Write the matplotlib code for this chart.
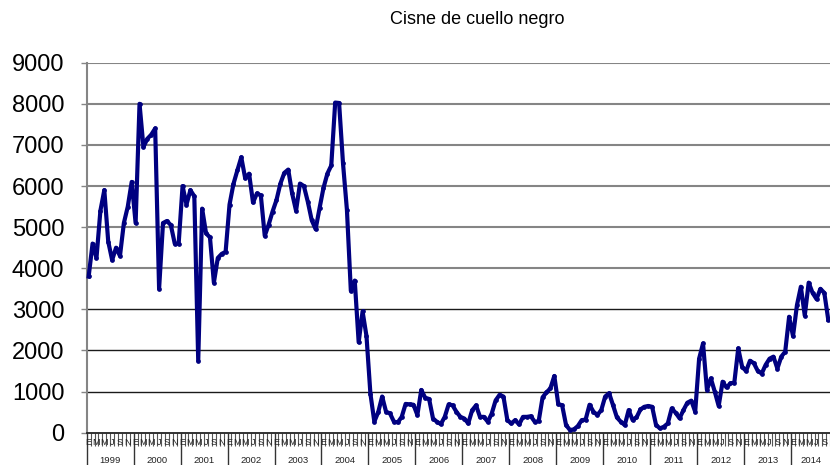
import numpy as np
import matplotlib
matplotlib.use("Agg")
import matplotlib.pyplot as plt
from matplotlib.transforms import blended_transform_factory

title = "Cisne de cuello negro"
years = ["1999", "2000", "2001", "2002", "2003", "2004", "2005", "2006",
         "2007", "2008", "2009", "2010", "2011", "2012", "2013", "2014"]
month_letters = ["E", "F", "M", "A", "M", "J", "J", "A", "S", "O", "N", "D"]

v1999 = [3800, 4600, 4250, 5400, 5900, 4650, 4200, 4500, 4300, 5100, 5500, 6100]
v2000 = [5100, 8000, 6950, 7150, 7250, 7400, 3500, 5100, 5150, 5050, 4600, 4600]
v2001 = [6000, 5550, 5900, 5750, 1750, 5450, 4850, 4750, 3650, 4250, 4350, 4400]
v2002 = [5550, 6050, 6380, 6700, 6190, 6300, 5600, 5820, 5770, 4790, 5060, 5380]
v2003 = [5660, 6060, 6320, 6400, 5820, 5400, 6060, 6000, 5620, 5170, 4950, 5460]
v2004 = [5950, 6300, 6500, 8030, 8020, 6550, 5420, 3450, 3700, 2200, 2950, 2350]
v2005 = [950, 270, 500, 880, 510, 470, 270, 250, 385, 700, 690, 680]
v2006 = [430, 1040, 850, 820, 345, 265, 210, 385, 690, 665, 505, 385]
v2007 = [345, 225, 545, 665, 385, 385, 265, 465, 785, 920, 880, 305]
v2008 = [225, 305, 200, 385, 385, 400, 265, 280, 860, 980, 1080, 1380]
v2009 = [700, 665, 185, 65, 80, 160, 305, 320, 680, 510, 430, 550]
v2010 = [880, 960, 670, 370, 265, 185, 550, 310, 370, 565, 630, 650]
v2011 = [630, 185, 105, 145, 225, 590, 485, 350, 550, 730, 780, 510]
v2012 = [1800, 2170, 1040, 1320, 1000, 650, 1240, 1100, 1200, 1220, 2050, 1600]
v2013 = [1500, 1750, 1690, 1500, 1440, 1650, 1800, 1850, 1560, 1850, 1970, 2820]
v2014 = [2350, 3100, 3550, 2850, 3650, 3400, 3250, 3500, 3400, 2750]

series = [v1999, v2000, v2001, v2002, v2003, v2004, v2005, v2006,
          v2007, v2008, v2009, v2010, v2011, v2012, v2013, v2014]
values = np.array([v for yr in series for v in yr], dtype=float)
n = len(values)
x = np.arange(n) + 0.5

yticks = [0, 1000, 2000, 3000, 4000, 5000, 6000, 7000, 8000, 9000]

plt.rcParams['font.family'] = ['Liberation Sans', 'DejaVu Sans']

W, H = 830, 465
fig = plt.figure(figsize=(W / 100, H / 100), dpi=100)
ax = fig.add_axes([86.7 / W, 32.3 / H, 743.5 / W, 370 / H])
ax.set_xlim(0, n)
ax.set_ylim(0, 9000)

# gridlines
for g in yticks[1:]:
    if g >= 4000:
        ax.axhline(g, color="#858585", lw=1.5, zorder=1)
    else:
        ax.axhline(g, color="#1a1a1a", lw=1.0, zorder=1)

ax.plot(x, values, color="#000080", lw=3.0, marker="o", ms=2.4,
        solid_joinstyle="round", zorder=3, clip_on=False)

for s in ["top", "right"]:
    ax.spines[s].set_visible(False)
ax.spines["left"].set_color("#858585")
ax.spines["left"].set_linewidth(1.5)
ax.spines["bottom"].set_color("#222222")
ax.spines["bottom"].set_linewidth(1.3)

ax.set_yticks(yticks)
ax.set_yticklabels([str(t) for t in yticks], fontsize=17)
ax.tick_params(axis="y", length=4, width=1, color="#858585", pad=12)

# x ticks: year separators (major) and month ticks (minor)
year_starts = np.arange(0, n, 12)
ax.set_xticks(year_starts)
ax.set_xticklabels([])
ax.set_xticks(np.arange(0, n + 1), minor=True)
ax.tick_params(axis="x", which="major", length=24, width=1.0, color="#333333")
ax.tick_params(axis="x", which="minor", length=9, width=0.8, color="#555555")

trans = blended_transform_factory(ax.transData, ax.transAxes)
for i in range(0, n, 2):
    ax.text(i + 0.5, -0.026, month_letters[i % 12], transform=trans,
            ha="center", va="center", fontsize=6.5, color="#222222",
            clip_on=False)
for k, yr in enumerate(years):
    start = k * 12
    end = min(start + 12, n)
    ax.text((start + end) / 2, -0.074, yr, transform=trans, ha="center",
            va="center", fontsize=6.8, color="#222222")

fig.text(477 / W, 1 - 19 / H, title, ha="center", va="center", fontsize=13)

fig.savefig("out.png", dpi=100)
